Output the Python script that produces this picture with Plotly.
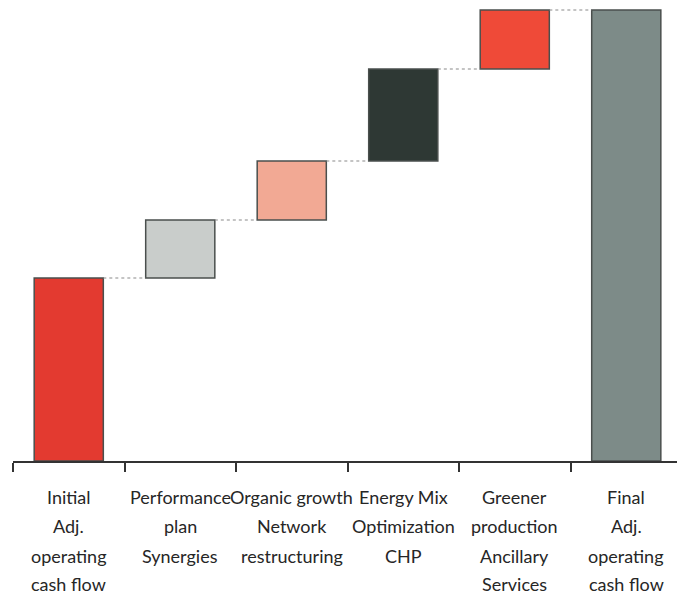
import plotly.graph_objects as go

# Waterfall of adjusted operating cash flow
categories = ["Initial", "Performance", "Organic growth", "Energy Mix", "Greener", "Final"]
label_lines = [
    ["Initial", "Adj.", "operating", "cash flow"],
    ["Performance", "plan", "Synergies"],
    ["Organic growth", "Network", "restructuring"],
    ["Energy Mix", "Optimization", "CHP"],
    ["Greener", "production", "Ancillary", "Services"],
    ["Final", "Adj.", "operating", "cash flow"],
]
steps = [183, 58, 59, 92, 59]          # initial value followed by the four increments
bar_colors = ["#e33a30", "#c9cdcb", "#f2a994", "#2e3834", "#ef4a38", "#7d8b88"]
outline = "#4a4f4d"

# bases and heights: first bar from zero, increments floating, final total from zero
bases, heights = [], []
running = 0
for i, s in enumerate(steps):
    bases.append(0 if i == 0 else running)
    heights.append(s)
    running += s
bases.append(0)
heights.append(running)
tops = [b + h for b, h in zip(bases, heights)]

BAR_W = 0.62
x_idx = list(range(len(categories)))

fig = go.Figure()
fig.add_trace(go.Bar(
    x=x_idx, y=heights, base=bases, width=BAR_W,
    marker=dict(color=bar_colors, line=dict(color=outline, width=1.5)),
    hoverinfo="skip", showlegend=False,
))

# dotted connectors between consecutive bars
shapes = []
for i in range(len(categories) - 1):
    shapes.append(dict(
        type="line", xref="x", yref="y",
        x0=i + BAR_W / 2, x1=i + 1 - BAR_W / 2, y0=tops[i], y1=tops[i],
        line=dict(color="#8a8a8a", width=1.2, dash="dot"),
    ))

# multi-line category labels under the axis (offsets in px below the axis line)
PLOT_H = 461
annotations = []
line_offsets = [36, 65, 95, 123]
for i, lines in enumerate(label_lines):
    for j, t in enumerate(lines):
        annotations.append(dict(
            x=i, y=-line_offsets[j] / PLOT_H, xref="x", yref="paper", text=t,
            showarrow=False, xanchor="center", yanchor="middle",
            font=dict(family="Lato, sans-serif", size=18, color="#262626"),
        ))

fig.update_layout(
    width=677, height=600,
    margin=dict(l=13, r=0, t=0, b=139),
    paper_bgcolor="white", plot_bgcolor="white",
    shapes=shapes, annotations=annotations,
    xaxis=dict(
        range=[-0.5, 5.455], tickmode="array", tickvals=[i - 0.5 for i in range(7)],
        ticktext=[""] * 7, showline=True, linecolor="#333333", linewidth=2,
        ticks="outside", ticklen=9, tickwidth=2, tickcolor="#333333",
        showgrid=False, zeroline=False, fixedrange=True,
    ),
    yaxis=dict(range=[0, PLOT_H], visible=False, fixedrange=True),
)

fig.write_html("out.html")
